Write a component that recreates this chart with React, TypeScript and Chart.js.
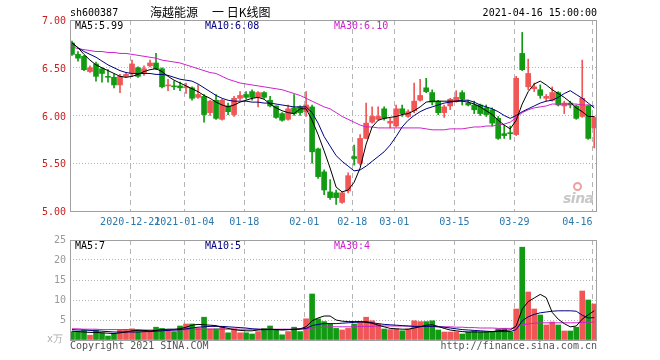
import React, { useEffect, useRef } from "react";
import { Chart, registerables } from "chart.js";
Chart.register(...registerables);

const MONO = "'DejaVu Sans Mono', 'Liberation Mono', monospace";
const CJK = "'Noto Sans CJK SC', 'Noto Sans', sans-serif";

const tickIndex = [10, 19, 29, 39, 47, 54, 64, 74, 87];
const tickLabels = ["2020-12-21", "2021-01-04", "01-18", "02-01", "02-18", "03-01", "03-15", "03-29", "04-16"];

const opens = [6.76,6.64,6.62,6.46,6.54,6.49,6.41,6.40,6.32,6.41, 6.44,6.50,6.44,6.52,6.55,6.49,6.31,6.31,6.31,6.29, 6.29,6.19,6.20,6.03,6.16,5.96,6.10,6.01,6.18,6.22, 6.25,6.19,6.24,6.16,6.10,6.02,5.96,6.08,6.09,6.04, 6.09,5.65,5.41,5.20,5.19,5.09,5.21,5.57,5.50,5.76, 5.93,5.96,6.07,5.92,5.89,6.07,5.99,6.05,6.16,6.29, 6.24,6.15,6.03,6.10,6.15,6.24,6.13,6.11,6.11,6.08, 6.06,5.97,5.81,5.82,5.80,6.65,6.30,6.28,6.27,6.18, 6.16,6.24,6.10,6.13,6.10,5.99,6.10,5.87];
const closes = [6.64,6.60,6.48,6.50,6.41,6.44,6.40,6.32,6.41,6.43, 6.54,6.41,6.49,6.55,6.49,6.30,6.32,6.30,6.29,6.30, 6.18,6.22,6.01,6.15,5.97,6.16,6.04,6.18,6.21,6.19, 6.19,6.24,6.19,6.10,5.98,5.95,6.07,6.02,6.03,6.11, 5.62,5.36,5.22,5.14,5.14,5.19,5.37,5.55,5.76,5.92, 5.99,5.99,5.97,5.94,6.07,6.02,6.04,6.15,6.21,6.25, 6.14,6.03,6.09,6.17,6.19,6.17,6.11,6.06,6.02,6.01, 5.92,5.76,5.79,5.81,6.39,6.48,6.44,6.30,6.21,6.20, 6.24,6.11,6.13,6.11,5.97,6.18,5.76,5.98];
const highs = [6.78,6.67,6.63,6.52,6.56,6.50,6.48,6.43,6.43,6.45, 6.58,6.51,6.52,6.58,6.65,6.50,6.38,6.36,6.35,6.34, 6.30,6.32,6.22,6.16,6.22,6.17,6.13,6.20,6.25,6.25, 6.27,6.25,6.25,6.20,6.10,6.03,6.11,6.22,6.10,6.25, 6.11,5.66,5.43,5.33,5.22,5.20,5.40,5.69,5.80,6.13, 6.09,6.09,6.09,5.97,6.11,6.11,6.06,6.34,6.38,6.39, 6.27,6.16,6.11,6.18,6.26,6.26,6.16,6.15,6.12,6.11, 6.08,5.99,5.90,5.89,6.41,6.87,6.59,6.34,6.32,6.22, 6.30,6.25,6.15,6.15,6.11,6.58,6.11,5.99];
const lows = [6.63,6.57,6.47,6.45,6.36,6.35,6.35,6.29,6.24,6.40, 6.41,6.40,6.42,6.51,6.48,6.29,6.26,6.27,6.26,6.23, 6.16,6.18,5.93,6.00,5.96,5.95,6.01,5.99,6.16,6.17, 6.16,6.09,6.18,6.09,5.97,5.94,5.95,6.00,6.00,5.99, 5.50,5.34,5.17,5.12,5.07,5.08,5.19,5.48,5.48,5.76, 5.92,5.95,5.95,5.87,5.88,5.99,5.98,6.03,6.15,6.24, 6.11,6.01,5.98,6.06,6.14,6.11,6.10,6.02,6.00,5.99, 5.89,5.75,5.76,5.75,5.79,6.47,6.27,6.25,6.18,6.15, 6.15,6.10,6.02,6.08,5.96,5.98,5.75,5.66];

const ma5 = [6.76,6.71,6.64,6.58,6.53,6.50,6.47,6.44,6.41,6.40, 6.41,6.43,6.46,6.48,6.49,6.46,6.41,6.37,6.34,6.31, 6.28,6.25,6.21,6.18,6.14,6.11,6.09,6.11,6.14,6.16, 6.18,6.19,6.17,6.12,6.08,6.05,6.03,6.02,6.07,6.07, 5.95,5.80,5.63,5.45,5.25,5.20,5.22,5.30,5.45,5.70, 5.88,5.95,5.97,5.98,5.99,6.01,6.02,6.05,6.09,6.14, 6.15,6.15,6.15,6.15,6.15,6.15,6.14,6.12,6.09,6.05, 6.01,5.95,5.90,5.86,5.95,6.12,6.25,6.33,6.36,6.32, 6.27,6.23,6.19,6.14,6.08,6.04,5.99,5.99];
const ma10 = [6.76,6.71,6.67,6.64,6.61,6.57,6.53,6.50,6.47,6.45, 6.44,6.44,6.44,6.44,6.43,6.43,6.42,6.40,6.38,6.37, 6.36,6.33,6.29,6.25,6.21,6.18,6.16,6.15,6.15,6.15, 6.14,6.14,6.13,6.13,6.12,6.11,6.10,6.09,6.09,6.09, 6.03,5.92,5.78,5.68,5.58,5.52,5.47,5.42,5.43,5.47, 5.52,5.57,5.62,5.69,5.78,5.88,5.95,6.00,6.04,6.07, 6.09,6.11,6.13,6.14,6.15,6.16,6.16,6.14,6.11,6.09, 6.07,6.04,6.00,5.97,6.00,6.04,6.07,6.10,6.13,6.15, 6.16,6.19,6.23,6.26,6.22,6.18,6.13,6.08];
const ma30 = [6.72,6.70,6.69,6.68,6.67,6.67,6.66,6.66,6.65,6.65, 6.64,6.63,6.62,6.61,6.60,6.58,6.57,6.56,6.55,6.53, 6.51,6.49,6.47,6.45,6.44,6.41,6.38,6.36,6.34,6.33, 6.32,6.31,6.30,6.29,6.28,6.27,6.25,6.23,6.21,6.18, 6.15,6.12,6.09,6.07,6.03,5.99,5.96,5.93,5.90,5.88, 5.88,5.87,5.87,5.87,5.87,5.87,5.87,5.87,5.87,5.86, 5.85,5.85,5.85,5.86,5.86,5.86,5.87,5.88,5.88,5.89, 5.89,5.90,5.91,5.93,5.98,6.03,6.06,6.08,6.09,6.10, 6.12,6.12,6.12,6.12,6.12,6.11,6.11,6.10];

const volumes = [2.1,2.1,2.4,1.2,2.5,1.8,1.0,1.5,2.5,2.6, 2.8,2.1,2.1,2.1,3.2,2.9,2.5,2.1,3.5,4.0, 4.0,3.0,5.7,2.8,2.8,3.3,1.8,2.8,1.8,1.8, 1.5,2.1,2.9,3.5,2.5,1.3,2.1,3.2,2.1,5.3, 11.5,5.3,4.6,4.0,2.9,2.5,2.9,4.0,4.6,5.7, 4.8,4.0,2.75,2.6,2.75,2.3,2.75,4.8,4.6,4.6, 4.8,2.5,2.0,2.0,2.0,1.5,2.0,2.25,2.0,2.0, 2.0,2.75,2.9,2.0,7.75,23.2,12.0,7.75,6.25,3.75, 4.5,3.75,2.25,2.25,3.2,12.25,10.0,9.0];
const vma5 = [2.2,2.1,2.0,1.9,1.9,1.8,1.7,1.6,1.8,2.0, 2.3,2.4,2.4,2.3,2.4,2.6,2.7,2.7,2.8,3.2, 3.7,3.9,3.8,3.7,3.6,3.2,2.9,2.6,2.4,2.3, 2.3,2.5,2.6,2.7,2.6,2.5,2.6,2.7,2.8,3.3, 4.8,5.5,6.0,6.0,5.0,4.7,4.6,4.6,4.6,4.4, 4.2,3.7,3.3,2.9,2.8,2.7,2.7,3.0,3.3,3.7, 3.8,3.4,2.9,2.5,2.3,2.1,2.0,2.0,2.0,2.0, 2.1,2.3,2.4,2.5,3.5,7.7,9.6,10.5,11.4,10.6, 6.9,5.2,4.1,3.3,3.5,5.2,6.3,7.3];
const vma10 = [2.6,2.5,2.5,2.4,2.3,2.2,2.1,2.0,2.0,2.0, 2.0,2.0,2.1,2.1,2.2,2.3,2.4,2.5,2.6,2.8, 3.0,3.2,3.3,3.4,3.4,3.4,3.3,3.2,3.1,3.0, 2.8,2.7,2.6,2.6,2.6,2.6,2.6,2.6,2.7,2.9, 3.6,3.9,4.1,4.1,4.1,4.2,4.3,4.4,4.5,4.6, 4.3,4.1,3.9,3.8,3.7,3.6,3.5,3.4,3.4,3.4, 3.4,3.3,3.2,3.0,2.8,2.6,2.5,2.4,2.3,2.2, 2.1,2.1,2.1,2.1,2.6,4.8,5.8,6.4,6.8,7.0, 7.2,7.3,7.3,7.3,7.2,6.2,5.5,5.6];
const vma30 = [2.8,2.8,2.7,2.7,2.7,2.6,2.6,2.6,2.6,2.6, 2.6,2.6,2.5,2.5,2.5,2.5,2.5,2.5,2.5,2.6, 2.6,2.7,2.7,2.7,2.7,2.7,2.7,2.7,2.7,2.7, 2.7,2.7,2.7,2.7,2.7,2.7,2.7,2.7,2.8,2.8, 3.0,3.1,3.2,3.3,3.3,3.3,3.3,3.3,3.4,3.4, 3.4,3.5,3.5,3.5,3.5,3.5,3.5,3.4,3.4,3.4, 3.4,3.3,3.3,3.3,3.2,3.2,3.1,3.1,3.0,3.0, 3.0,2.9,2.9,2.9,3.1,3.8,4.0,4.2,4.3,4.3, 4.3,4.3,4.3,4.3,4.3,4.4,4.4,4.5];

const UP = "rgb(240,86,86)";
const DOWN = "rgb(18,155,18)";
const GRID = "#b4b4b4";
const X_MIN = -0.33;
const X_MAX = 87.46;

const candleColors = opens.map((o, i) => (closes[i] >= o ? UP : DOWN));

const borderPlugin = {
  id: "frameBorder",
  afterDraw(chart: any) {
    const { ctx, chartArea } = chart;
    ctx.save();
    ctx.strokeStyle = "#a0a0a0";
    ctx.lineWidth = 1;
    ctx.strokeRect(chartArea.left + 0.5, chartArea.top + 0.5, chartArea.right - chartArea.left - 1, chartArea.bottom - chartArea.top);
    ctx.restore();
  },
};

const lineDs = (arr: number[], color: string) => ({
  type: "line" as const,
  data: arr.map((y, i) => ({ x: i, y })),
  borderColor: color,
  borderWidth: 1,
  pointRadius: 0,
  tension: 0,
  fill: false,
  order: 0,
});

const xScale = (showLabels: boolean, height: number) => ({
  type: "linear" as const,
  min: X_MIN,
  max: X_MAX,
  offset: false,
  afterBuildTicks: (s: any) => {
    s.ticks = [{ value: X_MIN }, ...tickIndex.map((v) => ({ value: v - 0.3 }))];
  },
  afterFit: (s: any) => {
    s.height = height;
    s.paddingLeft = 0;
    s.paddingRight = 0;
    s.paddingTop = 0;
    s.paddingBottom = 0;
  },
  ticks: {
    display: showLabels,
    autoSkip: false,
    maxRotation: 0,
    minRotation: 0,
    align: "inner",
    padding: 5,
    color: "#2a78ad",
    font: { family: MONO, size: 10 },
    callback: (_v: any, idx: number) => (idx === 0 ? "" : tickLabels[idx - 1]),
  },
  grid: { color: GRID, drawTicks: false, offset: false, borderDash: [5, 4] },
  border: { display: false, dash: [5, 4] },
});

function PriceChart() {
  const ref = useRef<HTMLCanvasElement>(null);
  useEffect(() => {
    const chart = new Chart(ref.current!, {
      type: "bar",
      data: {
        datasets: [
          lineDs(ma5, "#000000"),
          lineDs(ma10, "#000080"),
          lineDs(ma30, "#cc22cc"),
          {
            type: "bar",
            data: lows.map((l, i) => ({ x: i, y: [l, highs[i]] })),
            backgroundColor: candleColors,
            barThickness: 1,
            grouped: false,
            order: 2,
          } as any,
          {
            type: "bar",
            data: opens.map((o, i) => ({ x: i, y: [o, closes[i]] })),
            backgroundColor: candleColors,
            barThickness: 5,
            minBarLength: 1,
            grouped: false,
            order: 1,
          } as any,
        ],
      },
      options: {
        animation: false,
        responsive: false,
        maintainAspectRatio: false,
        layout: { padding: { left: 0, right: 63, top: 20, bottom: 0 } },
        plugins: { legend: { display: false }, tooltip: { enabled: false } },
        scales: {
          x: xScale(true, 19) as any,
          y: {
            min: 5,
            max: 7,
            afterBuildTicks: (s: any) => {
              s.ticks = [5, 5.5, 6, 6.5, 7].map((v) => ({ value: v }));
            },
            afterFit: (s: any) => {
              s.width = 70;
              s.paddingTop = 0;
              s.paddingBottom = 0;
            },
            ticks: {
              padding: 4,
              labelOffset: 1.5,
              color: "#c81e1e",
              font: { family: MONO, size: 10 },
              callback: (v: any) => Number(v).toFixed(2),
            },
            grid: { color: GRID, drawTicks: false, borderDash: [1, 2] },
            border: { display: false, dash: [1, 2] },
          } as any,
        },
      },
      plugins: [borderPlugin],
    });
    return () => chart.destroy();
  }, []);
  return <canvas ref={ref} width={660} height={230} style={{ position: "absolute", left: 0, top: 0, width: 660, height: 230 }} />;
}

function VolumeChart() {
  const ref = useRef<HTMLCanvasElement>(null);
  useEffect(() => {
    const chart = new Chart(ref.current!, {
      type: "bar",
      data: {
        datasets: [
          lineDs(vma5, "#000000"),
          lineDs(vma10, "#000080"),
          lineDs(vma30, "#cc22cc"),
          {
            type: "bar",
            data: volumes.map((v, i) => ({ x: i, y: v })),
            backgroundColor: candleColors,
            barThickness: 5,
            grouped: false,
            order: 1,
          } as any,
        ],
      },
      options: {
        animation: false,
        responsive: false,
        maintainAspectRatio: false,
        layout: { padding: { left: 0, right: 63, top: 10, bottom: 15 } },
        plugins: { legend: { display: false }, tooltip: { enabled: false } },
        scales: {
          x: xScale(false, 0) as any,
          y: {
            min: 0,
            max: 25,
            afterBuildTicks: (s: any) => {
              s.ticks = [0, 5, 10, 15, 20, 25].map((v) => ({ value: v }));
            },
            afterFit: (s: any) => {
              s.width = 70;
              s.paddingTop = 0;
              s.paddingBottom = 0;
            },
            ticks: {
              padding: 4,
              labelOffset: 0,
              color: "#9a9a9a",
              font: { family: MONO, size: 10 },
              callback: (v: any) => (Number(v) === 0 ? "" : String(v)),
            },
            grid: { color: GRID, drawTicks: false, borderDash: [1, 2] },
            border: { display: false, dash: [1, 2] },
          } as any,
        },
      },
      plugins: [borderPlugin],
    });
    return () => chart.destroy();
  }, []);
  return <canvas ref={ref} width={660} height={125} style={{ position: "absolute", left: 0, top: 230, width: 660, height: 125 }} />;
}

const T = (props: { style: React.CSSProperties; children: React.ReactNode }) => (
  <div style={{ position: "absolute", whiteSpace: "nowrap", fontFamily: MONO, fontSize: 10, lineHeight: "10px", ...props.style }}>
    {props.children}
  </div>
);

export default function App() {
  return (
    <div style={{ position: "absolute", left: 0, top: 0, width: 660, height: 360, background: "#fff", overflow: "hidden" }}>
      <PriceChart />
      <VolumeChart />
      <T style={{ left: 70, top: 8, color: "#000" }}>sh600387</T>
      <div style={{ position: "absolute", left: 150, top: 5, fontFamily: CJK, fontSize: 12, lineHeight: "14px", color: "#000", whiteSpace: "nowrap" }}>
        <span>海越能源</span>
        <span style={{ position: "absolute", left: 62 }}>一 日K线图</span>
      </div>
      <T style={{ right: 63, top: 8, color: "#000" }}>2021-04-16 15:00:00</T>
      <T style={{ left: 75, top: 21, color: "#000" }}>MA5:5.99</T>
      <T style={{ left: 205, top: 21, color: "#000080" }}>MA10:6.08</T>
      <T style={{ left: 334, top: 21, color: "#cc22cc" }}>MA30:6.10</T>
      <T style={{ left: 75, top: 241, color: "#000" }}>MA5:7</T>
      <T style={{ left: 205, top: 241, color: "#000080" }}>MA10:5</T>
      <T style={{ left: 334, top: 241, color: "#cc22cc" }}>MA30:4</T>
      <T style={{ right: 597, top: 334, color: "#aaa" }}>x万</T>
      <T style={{ left: 70, top: 341, color: "#555" }}>Copyright 2021 SINA.COM</T>
      <T style={{ right: 63, top: 341, color: "#555" }}>http://finance.sina.com.cn</T>
      <div style={{ position: "absolute", left: 573, top: 182, width: 9, height: 9, borderRadius: "50%", border: "2px solid #f0a0a0", boxSizing: "border-box" }} />
      <div style={{ position: "absolute", left: 563, top: 191, fontFamily: "'DejaVu Sans', sans-serif", fontStyle: "italic", fontWeight: "bold", fontSize: 14, lineHeight: "15px", color: "#c8c8c8", letterSpacing: -0.5 }}>sina</div>
    </div>
  );
}
